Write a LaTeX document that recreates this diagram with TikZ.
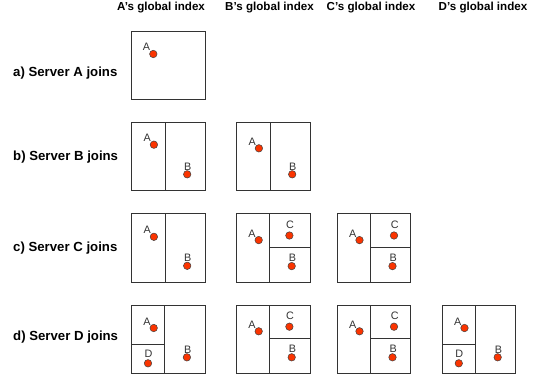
\documentclass[tikz,border=0pt]{standalone}
\usepackage{fontspec}
\setmainfont{Liberation Sans}
\definecolor{dotred}{RGB}{250,52,0}
\newcommand\hdrfont{\fontsize{11.6}{13}\selectfont\bfseries}
\newcommand\rowfont{\fontsize{13.2}{15}\selectfont\bfseries}
\newcommand\ptfont{\fontsize{10.8}{12}\selectfont}
\tikzset{
  frame/.style={draw=black!80, line width=0.9pt},
  divline/.style={draw=black!80, line width=0.9pt},
  dot/.style={circle, draw=black!75, line width=0.5pt, fill=dotred, inner sep=0pt, minimum size=7.5pt},
  plbl/.style={font=\ptfont, text=black!80, inner sep=0pt},
  hdr/.style={font=\hdrfont, anchor=base, inner sep=0pt},
  rowlbl/.style={font=\rowfont, anchor=west, inner sep=0pt},
}
% single box: only A
\newcommand\gboxone[3]{\begin{scope}[shift={(#2,#3)}]
  \draw[frame] (0,0) rectangle (73.3,68.5);
  \node[plbl] (#1la) at (14.8,16.2) {A};
  \node[dot] (#1A) at (21.6,23) {};
\end{scope}}
% two halves: A | B   (#4 = y of A dot)
\newcommand\gboxtwo[4]{\begin{scope}[shift={(#2,#3)}]
  \draw[frame] (0,0) rectangle (73.3,68.5);
  \coordinate (#1t) at (33.5,0); \coordinate (#1b) at (33.5,68.5);
  \draw[divline] (#1t) -- (#1b);
  \node[plbl] (#1la) at (15.5,#4-6.8) {A};
  \node[dot] (#1A) at (22.2,#4) {};
  \node[plbl] (#1lb) at (56,44) {B};
  \node[dot] (#1B) at (55.5,52) {};
\end{scope}}
% A | C over B   (#4 = x of C dot)
\newcommand\gboxthree[4]{\begin{scope}[shift={(#2,#3)}]
  \draw[frame] (0,0) rectangle (73.3,68.5);
  \coordinate (#1t) at (33,0); \coordinate (#1b) at (33,68.5);
  \coordinate (#1m) at (33,33.3); \coordinate (#1r) at (73.3,33.3);
  \draw[divline] (#1t) -- (#1b);
  \draw[divline] (#1m) -- (#1r);
  \node[plbl] (#1la) at (15.3,19.5) {A};
  \node[dot] (#1A) at (22,26.3) {};
  \node[plbl] (#1lc) at (#4+0.7,11.2) {C};
  \node[dot] (#1C) at (#4,21.7) {};
  \node[plbl] (#1lb) at (55.8,43.5) {B};
  \node[dot] (#1B) at (55,52.3) {};
\end{scope}}
% A over D | B
\newcommand\gboxfour[3]{\begin{scope}[shift={(#2,#3)}]
  \draw[frame] (0,0) rectangle (73.3,68.5);
  \coordinate (#1t) at (33,0); \coordinate (#1b) at (33,68.5);
  \coordinate (#1l) at (0,39); \coordinate (#1m) at (33,39);
  \draw[divline] (#1t) -- (#1b);
  \draw[divline] (#1l) -- (#1m);
  \node[plbl] (#1la) at (15.3,16.7) {A};
  \node[dot] (#1A) at (22,23) {};
  \node[plbl] (#1ld) at (16.8,48.3) {D};
  \node[dot] (#1D) at (16.3,58.3) {};
  \node[plbl] (#1lb) at (56,44.3) {B};
  \node[dot] (#1B) at (55.2,52.3) {};
\end{scope}}
\begin{document}
\begin{tikzpicture}[x=1pt,y=-1pt]
\useasboundingbox (0,0) rectangle (544,381);
% headers
\node[hdr] (hA) at (161,10) {A’s global index};
\node[hdr] (hB) at (269.5,10) {B’s global index};
\node[hdr] (hC) at (371,10) {C’s global index};
\node[hdr] (hD) at (483,10) {D’s global index};
% row labels
\node[rowlbl] (ra) at (13,73) {a) Server A joins};
\node[rowlbl] (rb) at (13,157) {b) Server B joins};
\node[rowlbl] (rc) at (13,248.5) {c) Server C joins};
\node[rowlbl] (rd) at (13,337) {d) Server D joins};
% row a
\gboxone{a1}{131.7}{31}
% row b
\gboxtwo{b1}{131.7}{122.3}{22.4}
\gboxtwo{b2}{236.7}{122.3}{26}
% row c
\gboxtwo{c1}{131.7}{213.8}{23}
\gboxthree{c2}{236.7}{213.8}{52.7}
\gboxthree{c3}{337.5}{213.8}{56.5}
% row d
\gboxfour{d1}{131.7}{305}
\gboxthree{d2}{236.7}{305}{52.7}
\gboxthree{d3}{337.5}{305}{56.5}
\gboxfour{d4}{442.5}{305}
\end{tikzpicture}
\end{document}
